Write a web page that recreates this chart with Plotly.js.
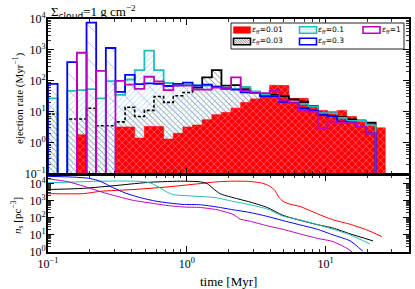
<!DOCTYPE html>
<html><head><meta charset="utf-8">
<script src="https://cdn.plot.ly/plotly-3.0.1.min.js"></script>
<style>html,body{margin:0;padding:0;background:#fff}#chart{width:415px;height:289px}</style>
</head><body><div id="chart"></div>
<script>
// histogram bin edges (Myr), uniform in log time
const binEdges = [0.1,0.1173,0.1376,0.1615,0.1895,0.2223,0.2609,0.3060,0.3591,0.4213,0.4943,0.5800,0.6805,0.7985,0.9367,1.099,1.290,1.513,1.775,2.083,2.443,2.867,3.364,3.947,4.631,5.433,6.374,7.479,8.775,10.29,12.08,14.17,16.63,19.51,22.89,26.85];
// ejection rate per bin (Myr^-1)
const rate001 = [0,0,0,1.8,0,0,0,3.2,3.2,1.4,3.3,3.3,1.3,2.0,3.2,3.7,5.5,8,9.5,13,20,26,30,72,70,27,27,15,11,10,11,7,5.5,4.5,3];
const rate003 = [8.4,0,5.8,5.8,13,3.5,3.5,4.7,14,7,11,31,20,33,42,60,130,220,70,72,54,42,36,35,32,25,21,15,8,7.2,6.7,5.6,5,4.4,0];
const rate01  = [27,0,47,50,54,27,98,35,110,220,950,220,85,70,75,72,70,65,60,55,63,45,35,32,22,21,18,14.5,9,9,6.3,5,5,3.7,0];
const rate03  = [80,0,400,0,7600,0,1150,44,155,78,83,80,68,80,87,70,75,65,57,52,42,40,32,32,21,19,13,11,8,7.2,4.8,4.5,3.2,2.0,0];
const rate1   = [0,0,0,810,0,210,0,100,75,55,135,95,50,70,70,52,52,60,54,130,48,40,40,47,23,19,11,10,2.9,4.8,4.5,4.3,3.2,2.0,0];
const blackDashUntil = 15; // bins whose outline shows dashed (under the hatch)

// stellar density n_s (pc^-3) vs time (Myr)
const tRed = [0.1,0.18,0.24,0.41,0.72,1.25,1.65,2.15,2.85,3.5,3.95,4.3,4.6,4.93,5.5,6.53,8.67,11.3,15,19.8,25.4];
const nRed = [2570,2570,3548,4467,6310,10000,12590,13800,13180,10470,7079,3981,1585,912,631,457,174,75.9,41.7,19.5,7.94];
const tBlack = [0.1,0.18,0.32,0.55,0.94,1.25,1.4,1.55,1.74,2.15,2.85,3.8,4.9,6.5,8.7,11.3,15,21.9];
const nBlack = [4467,5248,7943,12020,13800,12590,10000,5012,2512,1514,832,398,141,72.4,39.8,25.1,11.5,4.47];
const tCyan = [0.1,0.14,0.24,0.41,0.5,0.56,0.64,0.72,0.8,1.0,1.4,1.65,2.15,2.85,3.8,4.9,6.5,8.7,11.3,15,20.8];
const nCyan = [11220,12020,13800,13800,12590,10000,5623,3162,2239,1950,1660,1445,912,575,324,126,75.9,39.8,21.4,10,2.95];
const tBlue = [0.1,0.15,0.2,0.24,0.29,0.36,0.45,0.6,0.75,0.94,1.25,1.65,2.15,2.85,3.8,4.9,6.5,8.7,11.3,15,18.5];
const nBlue = [26300,23990,19950,13180,6026,2818,1585,933,724,603,575,427,295,204,120,69.2,38.9,21.4,10,4.47,1.12];
const tMag = [0.1,0.14,0.18,0.24,0.32,0.41,0.55,0.72,0.94,1.25,1.65,2.15,2.3,2.42,2.85,3.8,4.9,6.5,8.7,11.3,14.2,15.5];
const nMag = [19050,12590,7079,3311,1738,1047,724,525,427,398,295,158,112,83.2,63.1,33.9,21.4,11.5,6.3,4.07,1.66,1.0];

const legendLabels = ['0.01','0.03','0.1','0.3','1'];
// tick labels
const xTickVals = [0.1, 1, 10];
const xTickText = ['10<sup>−1</sup>','10<sup>0</sup>','10<sup>1</sup>'];
const yTopTickVals = [0.1, 1, 10, 100, 1000, 10000];
const yTopTickText = ['10<sup>−1</sup>','10<sup>0</sup>','10<sup>1</sup>','10<sup>2</sup>','10<sup>3</sup>','10<sup>4</sup>'];
const yBotTickVals = [1, 10, 100, 1000, 10000];
const yBotTickText = ['10<sup>0</sup>','10<sup>1</sup>','10<sup>2</sup>','10<sup>3</sup>','10<sup>4</sup>'];

const RED='#ff0000', BLK='#000000', CYN='#1cbfbf', BLU='#0000ff', MAG='#bf00bf';
const FLOOR = 1e-3;

function stepPts(vals){
  const xs=[binEdges[0]], ys=[FLOOR];
  for(let i=0;i<vals.length;i++){
    const v = vals[i]>0 ? vals[i] : FLOOR;
    xs.push(binEdges[i], binEdges[i+1]); ys.push(v, v);
  }
  xs.push(binEdges[vals.length]); ys.push(FLOOR);
  return {xs, ys};
}
function fillTrace(vals, extra){
  const p = stepPts(vals);
  return Object.assign({type:'scatter', mode:'lines', x:p.xs, y:p.ys, fill:'toself',
    line:{width:0}, hoverinfo:'skip', xaxis:'x', yaxis:'y'}, extra);
}
function lineTrace(xs, ys, color, width, dash){
  return {type:'scatter', mode:'lines', x:xs, y:ys, line:{color:color, width:width, dash:dash||'solid'},
    hoverinfo:'skip', xaxis:'x', yaxis:'y'};
}

const traces = [];
traces.push(fillTrace(rate003, {fillcolor:'rgba(0,0,0,0)', fillpattern:{shape:'\\', fgcolor:'#707070', bgcolor:'rgba(0,0,0,0)', size:4, solidity:0.2}}));
traces.push(fillTrace(rate01, {fillcolor:'rgba(0,0,0,0)', fillpattern:{shape:'/', fgcolor:'rgb(160,222,230)', bgcolor:'rgba(0,0,0,0)', size:4, solidity:0.22}}));
traces.push(fillTrace(rate03, {fillcolor:'rgba(0,0,0,0)', fillpattern:{shape:'\\', fgcolor:'rgb(175,175,255)', bgcolor:'rgba(0,0,0,0)', size:12, solidity:0.07}}));
traces.push(fillTrace(rate001, {fillcolor:RED, line:{width:0.6,color:RED}, fillpattern:{shape:'x', fgcolor:'rgb(236,175,225)', bgcolor:RED, size:5, solidity:0.16}}));

// outlines
const pb = stepPts(rate003);
const cut = 2*blackDashUntil;
traces.push(lineTrace(pb.xs.slice(0,cut+1), pb.ys.slice(0,cut+1), BLK, 1.6, '3px,2px'));
traces.push(lineTrace(pb.xs.slice(cut), pb.ys.slice(cut), BLK, 1.8));
[[rate01,CYN],[rate03,BLU],[rate1,MAG]].forEach(([v,c])=>{
  const p = stepPts(v); traces.push(lineTrace(p.xs, p.ys, c, 1.8));
});

// lower panel
[[tRed,nRed,RED],[tBlack,nBlack,BLK],[tCyan,nCyan,CYN],[tBlue,nBlue,BLU],[tMag,nMag,MAG]].forEach(([t,n,c])=>{
  traces.push({type:'scatter', mode:'lines', x:t, y:n, line:{color:c, width:1, shape:'spline', smoothing:0.6},
    hoverinfo:'skip', xaxis:'x2', yaxis:'y2'});
});

// geometry helpers for paper coordinates
const L=48, R=6, T=19, B=37, W=415, H=289;
const PW=W-L-R, PH=H-T-B;
const px=x=>(x-L)/PW, py=y=>(H-B-y)/PH;

const shapes=[], annotations=[];
function rectPx(x0,y0,x1,y1,opt){
  shapes.push(Object.assign({type:'rect', xref:'paper', yref:'paper', x0:px(x0), x1:px(x1), y0:py(y1), y1:py(y0), layer:'above'}, opt));
}
function linePx(x0,y0,x1,y1,color,w){
  shapes.push({type:'line', xref:'paper', yref:'paper', x0:px(x0), y0:py(y0), x1:px(x1), y1:py(y1), line:{color:color,width:w}, layer:'above'});
}
function hatch(x0,y0,x1,y1,dir,step,color,w){
  for(let c=-40;c<=40;c+=step){
    if(dir==='\\'){ // x - y = k
      const k = x0 - y0 + c;
      const ys=Math.max(y0, x0-k), ye=Math.min(y1, x1-k);
      if(ye>ys) linePx(k+ys, ys, k+ye, ye, color, w);
    } else { // x + y = k
      const k = x0 + y0 + c;
      const ys=Math.max(y0, k-x1), ye=Math.min(y1, k-x0);
      if(ye>ys) linePx(k-ys, ys, k-ye, ye, color, w);
    }
  }
}

// legend box
rectPx(231,23,404,49,{line:{color:'#222',width:1}, fillcolor:'white'});
const entries = [
  {lab:legendLabels[0], col:0,row:0, edge:RED, fill:RED},
  {lab:legendLabels[2], col:1,row:0, edge:CYN, fill:'white', hatch:['/', 'rgb(140,215,225)']},
  {lab:legendLabels[4], col:2,row:0, edge:MAG, fill:'white'},
  {lab:legendLabels[1], col:0,row:1, edge:BLK, fill:'white', hatch:['\\','#444']},
  {lab:legendLabels[3], col:1,row:1, edge:BLU, fill:'white'}
];
const colX=[233.5,299.5,363], rowY=[30,41.5];
entries.forEach(e=>{
  const x0=colX[e.col], x1=x0+17, y0=rowY[e.row]-3.3, y1=rowY[e.row]+3.3;
  rectPx(x0,y0,x1,y1,{line:{color:e.edge,width:e.fill===RED?0.5:1.6}, fillcolor:e.fill});
  if(e.hatch) hatch(x0+1,y0+1,x1-1,y1-1,e.hatch[0],2.5,e.hatch[1],0.7);
  annotations.push({xref:'paper', yref:'paper', x:px(x1+0.5), y:py(rowY[e.row]), xanchor:'left', yanchor:'middle', showarrow:false,
    borderpad:0, text:'<i>ε</i><sub>ff</sub>=' + e.lab, font:{family:'DejaVu Sans', size:7.5, color:'black'}});
});

// titles
annotations.push({xref:'paper', yref:'paper', x:px(49), y:py(12), xanchor:'left', yanchor:'middle', showarrow:false,
  text:'Σ<sub><span style="font-family:DejaVu Sans">cloud</span></sub>=1 g cm<sup>−2</sup>', font:{size:13}});
annotations.push({xref:'paper', yref:'paper', x:px(19), y:py(98), xanchor:'center', yanchor:'middle', showarrow:false, textangle:-90,
  text:'ejection rate (Myr<sup>−1</sup>)', font:{size:11}});
annotations.push({xref:'paper', yref:'paper', x:px(17), y:py(216), xanchor:'center', yanchor:'middle', showarrow:false, textangle:-90,
  text:'<i>n</i><sub>s</sub> [pc<sup>−3</sup>]', font:{size:11}});
annotations.push({xref:'paper', yref:'paper', x:px(228), y:py(281), xanchor:'center', yanchor:'middle', showarrow:false,
  text:'time [Myr]', font:{size:13}});

const axBase = {type:'log', showline:true, linewidth:2, linecolor:'black', mirror:'allticks', ticks:'inside', ticklen:6, tickwidth:1, tickcolor:'black',
  minor:{ticks:'inside', ticklen:3, tickwidth:0.8, tickcolor:'black', dtick:'D1'}, showgrid:false, zeroline:false,
  tickmode:'array', tickfont:{size:12, family:'Liberation Serif, serif'}};

const layout = {
  width:W, height:H, margin:{l:L,r:R,t:T,b:B}, paper_bgcolor:'white', plot_bgcolor:'white', showlegend:false,
  font:{family:'Liberation Serif, serif', size:12, color:'black'},
  xaxis:Object.assign({}, axBase, {range:[-1,1.6], anchor:'y', showticklabels:false, tickvals:xTickVals, ticktext:xTickText}),
  yaxis:Object.assign({}, axBase, {range:[-1,4], domain:[py(173.5),1], anchor:'x', tickvals:yTopTickVals, ticktext:yTopTickText, ticklabelstandoff:-2}),
  xaxis2:Object.assign({}, axBase, {range:[-1,1.6], anchor:'y2', tickvals:xTickVals, ticktext:xTickText}),
  yaxis2:Object.assign({}, axBase, {range:[0,4.5], domain:[0,py(175)], anchor:'x2', tickvals:yBotTickVals, ticktext:yBotTickText, ticklabelstandoff:-2}),
  shapes:shapes, annotations:annotations
};
Plotly.newPlot('chart', traces, layout, {staticPlot:true});
</script></body></html>
